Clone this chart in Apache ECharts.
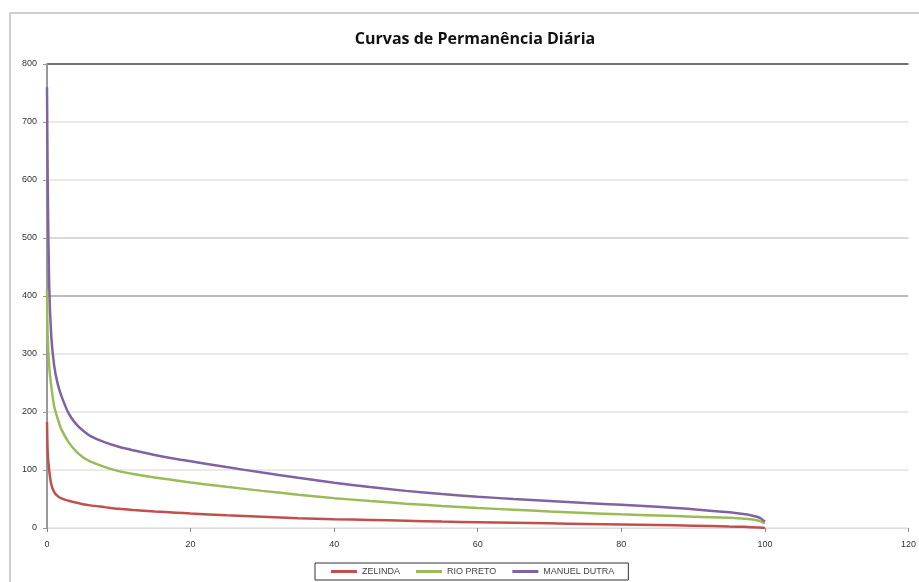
<!DOCTYPE html>
<html>
<head>
<meta charset="utf-8">
<script src="https://cdn.jsdelivr.net/npm/echarts@6/dist/echarts.min.js"></script>
<style>
  html, body { margin: 0; padding: 0; background: #fff; }
  #chart { width: 919px; height: 582px; }
</style>
</head>
<body>
<div id="chart"></div>
<script>
// percent of time exceeded
var xs = [0, 0.1, 0.3, 0.6, 1, 1.5, 2, 3, 4, 5, 6, 8, 10, 12, 15, 18, 20, 25, 30, 35, 40,
    45, 50, 55, 60, 65, 70, 75, 80, 85, 90, 95, 97, 98, 99, 99.5, 100];

var zelinda = [183, 130, 100, 75, 62, 55, 51, 47, 44, 41, 39, 36, 33, 31, 28.5, 26.5, 25, 22, 19.5, 17, 15,
    14, 12.5, 11, 10, 9, 8, 7, 6, 5, 4, 2.5, 2, 1.5, 1, 0.5, 0];
var rioPreto = [410, 330, 280, 244, 210, 188, 170, 148, 133, 122, 115, 105.5, 98, 93, 87, 82, 78.5, 71, 64, 57.5, 51.5,
    46.5, 42, 38, 34.5, 31.5, 28.5, 26, 23.5, 21.5, 19.5, 17.5, 16, 15, 13, 11, 8];
var manuelDutra = [760, 600, 420, 330, 280, 248, 228, 198, 180, 168, 159, 148, 140, 134, 126, 119, 115, 105, 95.5, 86.5, 78,
    70.5, 64, 58.5, 54, 50, 46.5, 43, 40, 36.5, 32.5, 27, 24, 22, 19, 16, 11];

var seriesNames = ['ZELINDA', 'RIO PRETO', 'MANUEL DUTRA'];
var seriesColors = ['#C0504D', '#9BBB59', '#8064A2'];

function pairs(ys) {
    return xs.map(function (x, i) { return [x, ys[i]]; });
}

var chartDom = document.getElementById('chart');
var myChart = echarts.init(chartDom, null, { renderer: 'canvas' });

var option = {
    backgroundColor: '#fff',
    animation: false,
    title: {
        text: 'Curvas de Permanência Diária',
        left: 470,
        textAlign: 'center',
        top: 26,
        textStyle: {
            fontFamily: 'Open Sans',
            fontSize: 16,
            fontWeight: 'bold',
            color: '#111'
        }
    },
    graphic: [{
        type: 'rect',
        shape: { x: 10, y: 13, width: 960, height: 620 },
        style: { fill: 'none', stroke: '#cfcfcf', lineWidth: 2 },
        silent: true,
        z: -1
    }],
    grid: {
        left: 47,
        right: 8,
        top: 64,
        bottom: 54
    },
    legend: {
        data: seriesNames,
        bottom: 2,
        left: 315,
        itemWidth: 26,
        itemHeight: 3,
        itemGap: 16,
        icon: 'rect',
        borderColor: '#333',
        borderWidth: 1,
        padding: [4, 14, 4, 16],
        textStyle: { fontFamily: 'Liberation Sans', fontSize: 9, color: '#444' }
    },
    xAxis: {
        type: 'value',
        min: 0,
        max: 120,
        interval: 20,
        axisLine: { show: true, lineStyle: { color: '#dcdcdc', width: 1 } },
        axisTick: { show: true, length: 4, lineStyle: { color: '#888' } },
        axisLabel: { fontFamily: 'Liberation Sans', fontSize: 9, color: '#333', margin: 12 },
        splitLine: { show: false }
    },
    yAxis: {
        type: 'value',
        min: 0,
        max: 800,
        interval: 100,
        axisLine: { show: true, lineStyle: { color: '#999', width: 2 } },
        axisTick: { show: true, length: 4, lineStyle: { color: '#999' } },
        axisLabel: { fontFamily: 'Liberation Sans', fontSize: 9, color: '#333', margin: 10 },
        splitLine: {
            show: true,
            lineStyle: {
                color: ['#e3e3e3', '#e3e3e3', '#e3e3e3', '#e3e3e3', '#a6a6a6', '#cccccc', '#e3e3e3', '#e3e3e3', '#444'],
                width: 1.5
            }
        }
    },
    series: [zelinda, rioPreto, manuelDutra].map(function (ys, i) {
        return {
            name: seriesNames[i],
            type: 'line',
            data: pairs(ys),
            smooth: 0.3,
            showSymbol: false,
            symbol: 'none',
            color: seriesColors[i],
            lineStyle: { color: seriesColors[i], width: 2.5 }
        };
    })
};

option && myChart.setOption(option);
window.addEventListener('resize', function () {
    myChart.resize();
});
</script>
</body>
</html>
